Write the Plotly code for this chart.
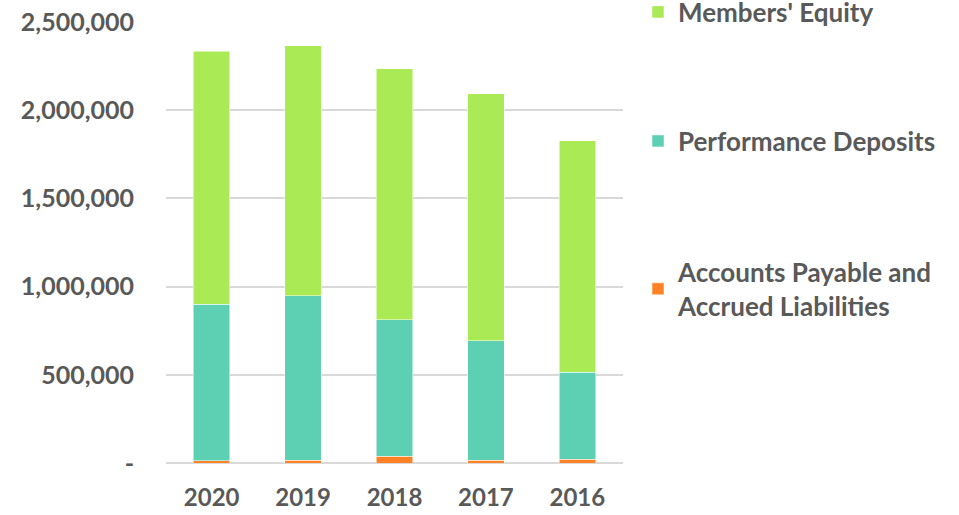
import plotly.graph_objects as go

years = ["2020", "2019", "2018", "2017", "2016"]
accounts_payable = [14000, 17000, 38000, 15000, 22000]
performance_deposits = [886000, 931000, 773000, 677000, 492000]
members_equity = [1434000, 1418000, 1425000, 1402000, 1313000]

ytick_vals = [0, 500000, 1000000, 1500000, 2000000, 2500000]
ytick_text = ["-", "500,000", "1,000,000", "1,500,000", "2,000,000", "2,500,000"]

TXT = "#595959"
FONT = "Lato"
YTICKFONT = dict(family=FONT, size=25, color=TXT, weight="bold")
XTICKFONT = dict(family=FONT, size=24, color=TXT, weight="bold")
LEGFONT = dict(family=FONT, size=26, color=TXT, weight="bold")

fig = go.Figure()
fig.add_trace(go.Bar(x=years, y=accounts_payable, name="Accounts Payable and<br>Accrued Liabilities",
                     marker=dict(color="#FD8226", line=dict(color="white", width=0.5)), legend="legend3"))
fig.add_trace(go.Bar(x=years, y=performance_deposits, name="Performance Deposits",
                     marker=dict(color="#5DD0B4", line=dict(color="white", width=0.5)), legend="legend2"))
fig.add_trace(go.Bar(x=years, y=members_equity, name="Members' Equity",
                     marker=dict(color="#AAEB55", line=dict(color="white", width=0.5)), legend="legend"))

W, H = 959, 515


def leg(xpx, ypx):
    return dict(
        xref="container", yref="container",
        x=xpx / W, xanchor="left", y=1 - ypx / H, yanchor="middle",
        font=LEGFONT, bgcolor="rgba(0,0,0,0)", borderwidth=0,
    )


fig.update_layout(
    barmode="stack",
    bargap=0.6,
    width=W, height=H,
    margin=dict(l=166, r=336, t=22, b=52),
    paper_bgcolor="white", plot_bgcolor="white",
    font=dict(family=FONT, size=20, color=TXT),
    showlegend=True,
    legend=leg(638, 12),
    legend2=leg(638, 141),
    legend3=leg(638, 289),
)
fig.update_yaxes(
    range=[0, 2500000], tickvals=ytick_vals, ticktext=ytick_text,
    showgrid=True, gridcolor="#D9D9D9", gridwidth=1.5,
    zeroline=True, zerolinecolor="#D9D9D9", zerolinewidth=1.5,
    showline=False, ticks="", ticklabelstandoff=31, automargin=False,
    tickfont=YTICKFONT,
)
fig.update_xaxes(
    showgrid=False, showline=False, ticks="", ticklabelstandoff=18, automargin=False,
    tickfont=XTICKFONT,
)

fig.write_html("out.html", config={"displayModeBar": False},
               post_script="document.body.style.margin='0';")
